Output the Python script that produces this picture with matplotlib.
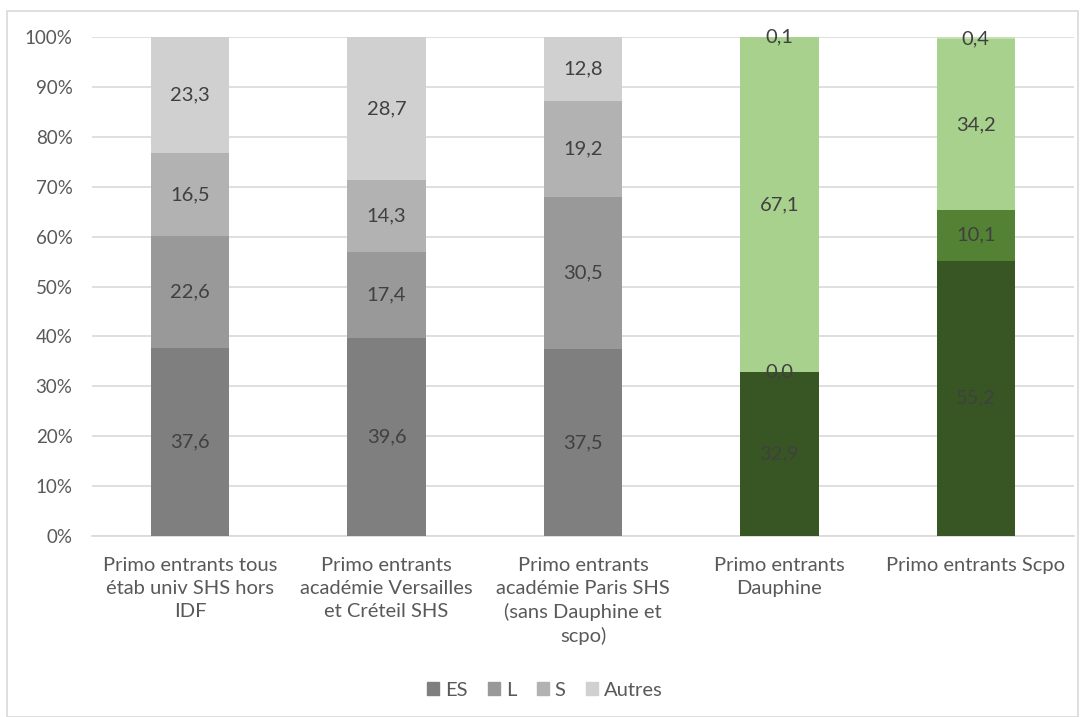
import matplotlib
matplotlib.use("Agg")
import matplotlib.pyplot as plt
from matplotlib.patches import Rectangle

categories = [
    "Primo entrants tous\nétab univ SHS hors\nIDF",
    "Primo entrants\nacadémie Versailles\net Créteil SHS",
    "Primo entrants\nacadémie Paris SHS\n(sans Dauphine et\nscpo)",
    "Primo entrants\nDauphine",
    "Primo entrants Scpo",
]
series_names = ["ES", "L", "S", "Autres"]
es = [37.6, 39.6, 37.5, 32.9, 55.2]
l = [22.6, 17.4, 30.5, 0.0, 10.1]
s = [16.5, 14.3, 19.2, 67.1, 34.2]
autres = [23.3, 28.7, 12.8, 0.1, 0.4]
yticks = [0, 10, 20, 30, 40, 50, 60, 70, 80, 90, 100]

gray_colors = ["#7f7f7f", "#999999", "#b2b2b2", "#d0d0d0"]
green_colors = ["#375623", "#548235", "#a9d18e", "#c5e0b4"]

plt.rcParams['font.family'] = ['Lato', 'DejaVu Sans']
FS_TICK = 13.5
FS_X = 14.5
FS_DATA = 14.5
FS_LEG = 14.5

fig = plt.figure(figsize=(10.86, 7.17), dpi=100)
ax = fig.add_axes([92/1086, (717-536)/717, (1074-92)/1086, (536-37)/717])

# outer chart border
fig.patches.append(Rectangle((7/1086, 0), (1078-7)/1086, (717-11)/717,
                             transform=fig.transFigure, fill=False,
                             edgecolor="#d9d9d9", linewidth=1.2))

data = [es, l, s, autres]
x = list(range(len(categories)))
width = 0.4
bottoms = [0.0] * len(categories)
handles = []
for si, vals in enumerate(data):
    cols = [gray_colors[si] if i < 3 else green_colors[si] for i in range(len(categories))]
    bars = ax.bar(x, vals, width=width, bottom=bottoms, color=cols, zorder=3,
                  edgecolor="none")
    handles.append(bars[0])
    for i, v in enumerate(vals):
        yc = bottoms[i] + v / 2
        ax.text(i, yc, f"{v:.1f}".replace(".", ","), ha="center", va="center",
                fontsize=FS_DATA, color="#404040", zorder=4)
    bottoms = [b + v for b, v in zip(bottoms, vals)]

ax.set_xlim(-0.5, len(categories) - 0.5)
ax.set_ylim(0, 100)
ax.set_yticks(yticks)
ax.set_yticklabels([f"{t}%" for t in yticks])
ax.set_xticks(x)
ax.set_xticklabels(categories, fontsize=FS_X, color="#595959", linespacing=1.42)
ax.tick_params(axis="y", labelsize=FS_TICK, labelcolor="#595959", length=0, pad=14)
ax.tick_params(axis="x", length=0, pad=15)
ax.grid(axis="y", color="#d9d9d9", linewidth=1.2, zorder=0)
for sp in ["top", "right", "left"]:
    ax.spines[sp].set_visible(False)
ax.spines["bottom"].set_color("#d9d9d9")
ax.spines["bottom"].set_linewidth(1.2)

fig.legend(handles, series_names, loc="center", bbox_to_anchor=(545/1086, 1 - 690/717),
           ncol=4, frameon=False, fontsize=FS_LEG, labelcolor="#595959",
           handlelength=0.6, handleheight=0.6, handletextpad=0.3, columnspacing=1.0)
leg = fig.legends[0]
for h, c in zip(leg.legend_handles, gray_colors):
    h.set_color(c)

fig.savefig("out.png", dpi=100)
